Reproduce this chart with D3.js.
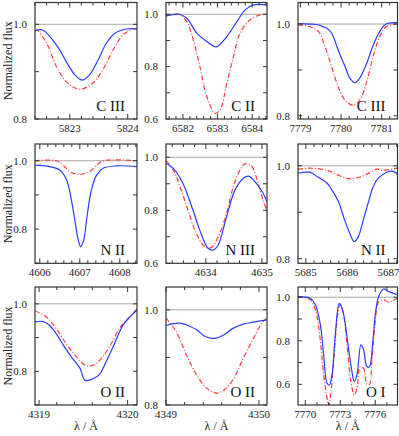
<!DOCTYPE html>
<html>
<head>
<meta charset="utf-8">
<script src="https://cdn.jsdelivr.net/npm/d3@7"></script>
<style>
  body { margin: 0; background: #fff; }
  svg { display: block; font-family: "Liberation Serif", "Times New Roman", serif; }
</style>
</head>
<body>
<script>
// ---- data: [wavelength (Å), normalized flux] ----
const cIII5823Obs = [[5822.40,0.986],[5822.53,0.988],[5822.79,0.953],[5822.94,0.921],[5823.09,0.893],[5823.22,0.882],[5823.34,0.893],[5823.49,0.925],[5823.63,0.960],[5823.78,0.981],[5823.98,0.990],[5824.16,0.990]];
const cIII5823Mod = [[5822.40,0.987],[5822.43,0.988],[5822.60,0.960],[5822.77,0.911],[5822.94,0.879],[5823.17,0.863],[5823.40,0.876],[5823.57,0.904],[5823.75,0.946],[5823.92,0.978],[5824.09,0.990],[5824.16,0.990]];

const cII6583Obs = [[6581.51,0.994],[6581.89,1.000],[6582.11,0.985],[6582.40,0.928],[6582.69,0.896],[6582.93,0.876],[6583.02,0.879],[6583.27,0.915],[6583.56,0.972],[6583.80,1.017],[6584.04,1.036],[6584.43,1.036]];
const cII6583Mod = [[6581.51,0.994],[6581.91,0.999],[6582.11,0.972],[6582.30,0.902],[6582.49,0.800],[6582.69,0.685],[6582.93,0.622],[6583.07,0.634],[6583.27,0.737],[6583.46,0.838],[6583.65,0.928],[6583.94,0.979],[6584.23,0.998],[6584.43,1.000]];

const cIII7780Obs = [[7778.94,1.001],[7779.24,1.000],[7779.45,0.998],[7779.53,0.995],[7779.65,0.991],[7779.77,0.980],[7779.93,0.943],[7780.10,0.907],[7780.22,0.882],[7780.34,0.872],[7780.46,0.882],[7780.63,0.914],[7780.79,0.954],[7780.95,0.983],[7781.11,1.000],[7781.39,1.003]];
const cIII7780Mod = [[7778.94,0.998],[7779.24,0.994],[7779.45,0.983],[7779.61,0.950],[7779.77,0.907],[7779.93,0.863],[7780.10,0.834],[7780.30,0.823],[7780.46,0.834],[7780.63,0.874],[7780.79,0.929],[7780.95,0.972],[7781.11,0.994],[7781.39,1.001]];

const nII4607Obs = [[4605.88,0.987],[4606.25,0.983],[4606.50,0.973],[4606.67,0.944],[4606.79,0.885],[4606.875,0.827],[4606.96,0.769],[4607.02,0.749],[4607.10,0.769],[4607.18,0.837],[4607.29,0.915],[4607.42,0.958],[4607.58,0.978],[4607.92,0.985],[4608.43,0.983]];
const nII4607Mod = [[4605.88,1.000],[4606.42,1.000],[4606.58,0.987],[4606.75,0.968],[4607.00,0.960],[4607.25,0.968],[4607.42,0.987],[4607.58,1.000],[4608.43,1.000]];

const nIII4634Obs = [[4633.29,0.977],[4633.42,0.958],[4633.59,0.902],[4633.77,0.801],[4633.89,0.726],[4634.04,0.657],[4634.13,0.650],[4634.22,0.669],[4634.37,0.776],[4634.52,0.877],[4634.67,0.921],[4634.76,0.929],[4634.875,0.908],[4635.02,0.864],[4635.09,0.832]];
const nIII4634Mod = [[4633.29,0.987],[4633.42,0.952],[4633.54,0.889],[4633.68,0.801],[4633.83,0.713],[4633.98,0.663],[4634.10,0.660],[4634.22,0.700],[4634.37,0.789],[4634.49,0.889],[4634.61,0.952],[4634.70,0.975],[4634.82,0.965],[4634.93,0.902],[4635.02,0.839],[4635.09,0.795]];

const nII5686Obs = [[5684.81,0.984],[5685.11,0.986],[5685.27,0.977],[5685.51,0.963],[5685.63,0.948],[5685.79,0.923],[5685.91,0.891],[5686.03,0.862],[5686.17,0.837],[5686.27,0.847],[5686.39,0.883],[5686.51,0.920],[5686.63,0.955],[5686.75,0.973],[5686.96,0.986],[5687.12,0.988],[5687.22,0.981]];
const nII5686Mod = [[5684.81,0.993],[5685.11,0.995],[5685.35,0.993],[5685.59,0.988],[5685.83,0.978],[5686.07,0.972],[5686.31,0.976],[5686.55,0.985],[5686.72,0.993],[5686.87,0.990],[5687.07,0.993],[5687.22,0.995]];

const oII4319Obs = [[4318.954,0.946],[4319.04,0.948],[4319.11,0.938],[4319.19,0.913],[4319.27,0.879],[4319.36,0.844],[4319.46,0.810],[4319.52,0.773],[4319.61,0.778],[4319.68,0.790],[4319.76,0.830],[4319.855,0.884],[4319.95,0.938],[4320.03,0.962],[4320.106,0.982]];
const oII4319Mod = [[4318.954,0.979],[4319.08,0.962],[4319.19,0.928],[4319.30,0.884],[4319.42,0.844],[4319.53,0.817],[4319.63,0.820],[4319.72,0.844],[4319.82,0.884],[4319.91,0.928],[4320.01,0.958],[4320.106,0.985]];

const oII4349Obs = [[4349.0,0.967],[4349.15,0.972],[4349.26,0.965],[4349.33,0.958],[4349.42,0.944],[4349.53,0.940],[4349.62,0.947],[4349.72,0.961],[4349.83,0.970],[4349.94,0.974],[4350.086,0.979]];
const oII4349Mod = [[4349.0,0.983],[4349.11,0.954],[4349.22,0.905],[4349.33,0.863],[4349.44,0.835],[4349.54,0.825],[4349.63,0.832],[4349.72,0.853],[4349.83,0.898],[4349.94,0.940],[4350.03,0.972],[4350.086,0.983]];

const oI7774Obs = [[7769.37,1.003],[7770.43,0.995],[7770.86,0.965],[7771.29,0.873],[7771.57,0.735],[7771.86,0.605],[7772.06,0.597],[7772.29,0.643],[7772.57,0.827],[7772.91,0.972],[7773.23,0.934],[7773.63,0.796],[7774.00,0.658],[7774.20,0.612],[7774.43,0.643],[7774.77,0.781],[7775.00,0.758],[7775.29,0.681],[7775.51,0.681],[7775.77,0.781],[7776.00,0.919],[7776.29,1.003],[7776.71,1.038],[7777.14,1.026],[7777.91,1.011]];
const oI7774Mod = [[7769.37,1.003],[7770.43,0.988],[7770.86,0.942],[7771.23,0.827],[7771.57,0.643],[7771.86,0.537],[7772.00,0.500],[7772.20,0.566],[7772.49,0.750],[7772.77,0.919],[7773.00,0.972],[7773.29,0.919],[7773.63,0.750],[7773.91,0.612],[7774.20,0.551],[7774.43,0.582],[7774.71,0.681],[7775.00,0.673],[7775.29,0.600],[7775.51,0.600],[7775.71,0.704],[7776.00,0.888],[7776.29,0.978],[7776.71,0.988],[7777.14,0.978],[7777.91,0.995]];

// ---- panel setup ----
const ionLabels = ["C III", "C II", "C III", "N II", "N III", "N II", "O II", "O II", "O I"];
const observed = [cIII5823Obs, cII6583Obs, cIII7780Obs, nII4607Obs, nIII4634Obs, nII5686Obs, oII4319Obs, oII4349Obs, oI7774Obs];
const model = [cIII5823Mod, cII6583Mod, cIII7780Mod, nII4607Mod, nIII4634Mod, nII5686Mod, oII4319Mod, oII4349Mod, oI7774Mod];
const xDomains = [[5822.40,5824.16],[6581.51,6584.43],[7778.94,7781.39],[4605.88,4608.43],[4633.29,4635.09],[5684.81,5687.22],[4318.954,4320.106],[4349.0,4350.086],[7769.37,7777.91]];
const yDomains = [[0.8,1.046],[0.6,1.045],[0.793,1.047],[0.70,1.049],[0.6,1.05],[0.79,1.047],[0.70,1.05],[0.8,1.048],[0.505,1.047]];
const xMajorTicks = [[5823,5824],[6582,6583,6584],[7779,7780,7781],[4606,4607,4608],[4634,4635],[5685,5686,5687],[4319,4320],[4349,4350],[7770,7773,7776]];
const xMinorStep = [0.2,0.2,0.2,0.2,0.2,0.2,0.2,0.2,1];
const yLabelTicks = [[0.8,1.0],[0.6,0.8,1.0],[0.8,1.0],[0.8,1.0],[0.6,0.8,1.0],[0.8,1.0],[0.8,1.0],[0.8,1.0],[0.6,0.8,1.0]];

const W = 399, H = 436;
const colX = [[35,137],[166,267],[298,397.5]];
const rowY = [[2.5,119],[144,263.3],[287,405]];

const svg = d3.select("body").append("svg")
  .attr("width", W)
  .attr("height", H);

const blue = "#2b3bff";
const red = "#ff3a3a";
const fmtY = d3.format(".1f");

ionLabels.forEach((lab, i) => {
  const col = i % 3, row = Math.floor(i / 3);
  const [x0, x1] = colX[col], [y0, y1] = rowY[row];
  const w = x1 - x0, h = y1 - y0;

  const x = d3.scaleLinear().domain(xDomains[i]).range([0, w]);
  const y = d3.scaleLinear().domain(yDomains[i]).range([h, 0]);

  const g = svg.append("g").attr("transform", `translate(${x0},${y0})`);

  g.append("clipPath").attr("id", "clip" + i)
    .append("rect").attr("width", w).attr("height", h);

  const plot = g.append("g").attr("clip-path", `url(#clip${i})`);

  // continuum
  plot.append("line")
    .attr("x1", 0).attr("x2", w)
    .attr("y1", y(1)).attr("y2", y(1))
    .attr("stroke", "#a8a8a8").attr("stroke-width", 1);

  const line = d3.line()
    .x(d => x(d[0]))
    .y(d => y(d[1]))
    .curve(d3.curveCatmullRom.alpha(0.5));

  plot.append("path").datum(model[i])
    .attr("d", line)
    .attr("fill", "none")
    .attr("stroke", red)
    .attr("stroke-width", 1.2)
    .attr("stroke-dasharray", "5,2,1,2");

  plot.append("path").datum(observed[i])
    .attr("d", line)
    .attr("fill", "none")
    .attr("stroke", blue)
    .attr("stroke-width", 1.2);

  // x ticks (top and bottom, inward)
  const [xa, xb] = xDomains[i];
  const step = xMinorStep[i];
  for (let k = Math.ceil(xa / step - 1e-6); k * step <= xb + 1e-9; k++) {
    const v = +(k * step).toFixed(4);
    const major = xMajorTicks[i].some(t => Math.abs(t - v) < 1e-6);
    const len = major ? 5 : 3;
    const px = x(v);
    g.append("line").attr("x1", px).attr("x2", px).attr("y1", h).attr("y2", h - len)
      .attr("stroke", "#333").attr("stroke-width", 1);
    g.append("line").attr("x1", px).attr("x2", px).attr("y1", 0).attr("y2", len)
      .attr("stroke", "#333").attr("stroke-width", 1);
  }
  xMajorTicks[i].forEach(t => {
    g.append("text")
      .attr("x", x(t)).attr("y", h + 13)
      .attr("text-anchor", "middle")
      .style("font-size", "11px")
      .attr("fill", "#222")
      .text(t);
  });

  // y ticks (left and right, inward)
  const [ya, yb] = yDomains[i];
  for (let k = Math.ceil(ya * 10 - 1e-6); k / 10 <= yb + 1e-9; k++) {
    const v = k / 10;
    const py = y(v);
    g.append("line").attr("x1", 0).attr("x2", 4).attr("y1", py).attr("y2", py)
      .attr("stroke", "#333").attr("stroke-width", 1);
    g.append("line").attr("x1", w).attr("x2", w - 4).attr("y1", py).attr("y2", py)
      .attr("stroke", "#333").attr("stroke-width", 1);
  }
  yLabelTicks[i].forEach(t => {
    g.append("text")
      .attr("x", -8).attr("y", y(t))
      .attr("dy", "0.35em")
      .attr("text-anchor", "end")
      .style("font-size", "11px")
      .attr("fill", "#222")
      .text(fmtY(t));
  });

  // frame
  g.append("rect")
    .attr("width", w).attr("height", h)
    .attr("fill", "none")
    .attr("stroke", "#333")
    .attr("stroke-width", 1.2);

  // ion label
  g.append("text")
    .attr("x", w - 12).attr("y", h - 8)
    .attr("text-anchor", "end")
    .style("font-size", "15px")
    .attr("fill", "#111")
    .text(lab);
});

// axis titles
rowY.forEach(([a, b]) => {
  svg.append("text")
    .attr("transform", `translate(12,${(a + b) / 2}) rotate(-90)`)
    .attr("text-anchor", "middle")
    .style("font-size", "12px")
    .attr("fill", "#222")
    .text("Normalized flux");
});
colX.forEach(([a, b]) => {
  svg.append("text")
    .attr("x", (a + b) / 2).attr("y", 430)
    .attr("text-anchor", "middle")
    .style("font-size", "12px")
    .attr("fill", "#222")
    .text("λ / Å");
});
</script>
</body>
</html>
